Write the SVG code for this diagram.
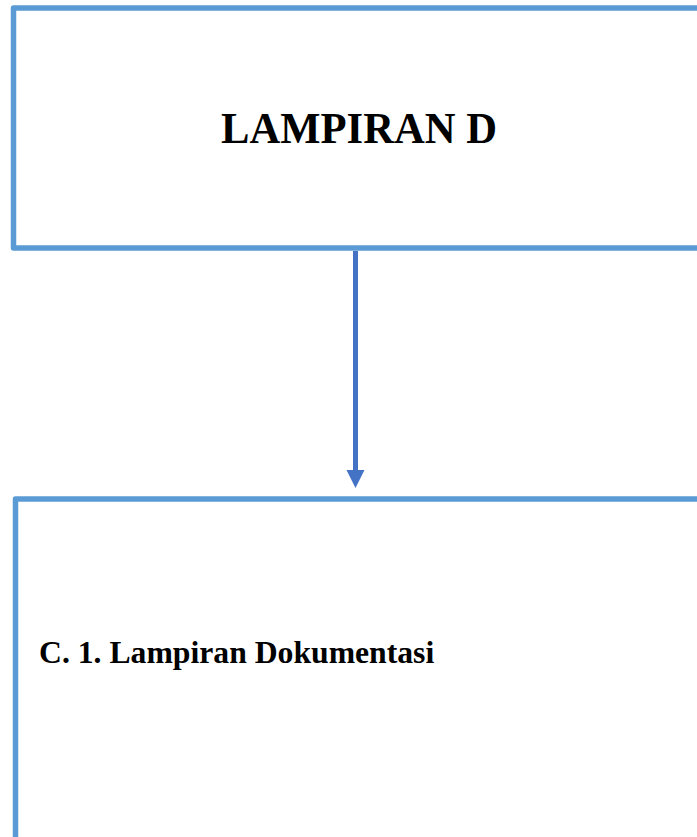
<svg xmlns="http://www.w3.org/2000/svg" width="697" height="837" viewBox="0 0 697 837">
<style>
.box{fill:#FFFFFF;stroke:#5B9BD5;stroke-width:5.5;stroke-linejoin:round}
.t{font-family:"Liberation Serif","Times New Roman",serif;font-weight:bold;fill:#000000}
.conn{stroke:#4472C4;stroke-width:5;fill:none}
</style>
<rect width="697" height="837" fill="#FFFFFF"/>
<g id="node-lampiran-d">
<rect class="box" x="13.5" y="8" width="700" height="240"/>
<text class="t" x="221" y="143" font-size="45" textLength="276" lengthAdjust="spacingAndGlyphs">LAMPIRAN D</text>
</g>
<g id="node-c1">
<rect class="box" x="15.5" y="499" width="700" height="360"/>
<text class="t" x="39" y="663" font-size="31.7">C. 1. Lampiran Dokumentasi</text>
</g>
<g id="connectors">
<line class="conn" x1="355.5" y1="251" x2="355.5" y2="470"/>
<path d="M346.5,470 L364.5,470 L355.5,488 Z" fill="#4472C4"/>
</g>
</svg>
